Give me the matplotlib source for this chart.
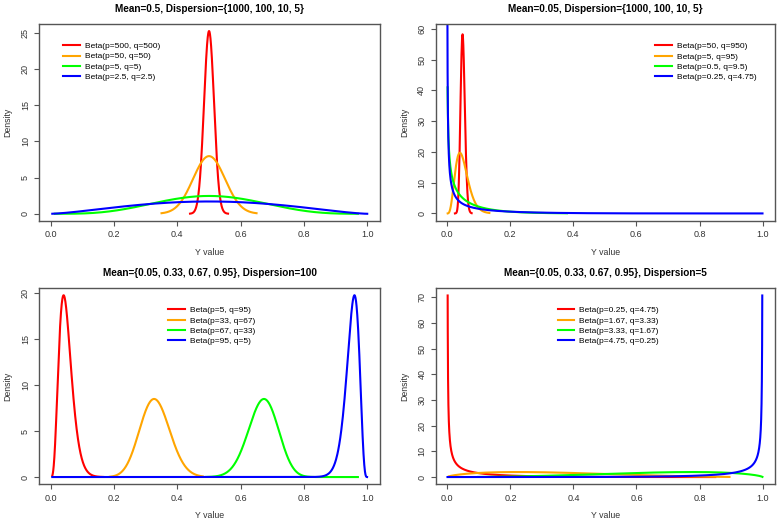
import math
import numpy as np
import matplotlib
matplotlib.use("Agg")
import matplotlib.pyplot as plt

plt.rcParams['font.family'] = ['Liberation Sans', 'DejaVu Sans']

# Beta parameters read from the legends, and the x span each curve covers
colores = ['#ff0000', '#ffa500', '#00ff00', '#0000ff']

titulos = ['Mean=0.5, Dispersion={1000, 100, 10, 5}',
           'Mean=0.05, Dispersion={1000, 100, 10, 5}',
           'Mean={0.05, 0.33, 0.67, 0.95}, Dispersion=100',
           'Mean={0.05, 0.33, 0.67, 0.95}, Dispersion=5']

p_tl = [500, 50, 5, 2.5]
q_tl = [500, 50, 5, 2.5]
rango_tl = [(0.44, 0.56), (0.35, 0.65), (0.013, 0.97), (0.005, 0.9995)]
lab_tl = ['Beta(p=500, q=500)', 'Beta(p=50, q=50)', 'Beta(p=5, q=5)', 'Beta(p=2.5, q=2.5)']

p_tr = [50, 5, 0.5, 0.25]
q_tr = [950, 95, 9.5, 4.75]
rango_tr = [(0.025, 0.078), (0.002, 0.134), (0.0017, 0.38), (0.0001, 0.9995)]
lab_tr = ['Beta(p=50, q=950)', 'Beta(p=5, q=95)', 'Beta(p=0.5, q=9.5)', 'Beta(p=0.25, q=4.75)']

p_bl = [5, 33, 67, 95]
q_bl = [95, 67, 33, 5]
rango_bl = [(0.005, 0.166), (0.187, 0.48), (0.49, 0.97), (0.005, 0.999)]
lab_bl = ['Beta(p=5, q=95)', 'Beta(p=33, q=67)', 'Beta(p=67, q=33)', 'Beta(p=95, q=5)']

p_br = [0.25, 1.67, 3.33, 4.75]
q_br = [4.75, 3.33, 1.67, 0.25]
rango_br = [(0.001, 0.85), (0.005, 0.895), (0.097, 0.9995), (0.0005, 0.999)]
lab_br = ['Beta(p=0.25, q=4.75)', 'Beta(p=1.67, q=3.33)', 'Beta(p=3.33, q=1.67)', 'Beta(p=4.75, q=0.25)']

yticks_tl = [0, 5, 10, 15, 20, 25]
yticks_tr = [0, 10, 20, 30, 40, 50, 60]
yticks_bl = [0, 5, 10, 15, 20]
yticks_br = [0, 10, 20, 30, 40, 50, 60, 70]
xticks = [0.0, 0.2, 0.4, 0.6, 0.8, 1.0]


def dbeta(x, a, b):
    lb = math.lgamma(a) + math.lgamma(b) - math.lgamma(a + b)
    return np.exp((a - 1) * np.log(x) + (b - 1) * np.log1p(-x) - lb)


def grilla(lo, hi):
    t = np.geomspace(1e-4, 1, 200)
    x = np.concatenate([np.linspace(lo, hi, 600), lo + (hi - lo) * t, hi - (hi - lo) * t])
    return np.unique(x)


fig = plt.figure(figsize=(7.78, 5.22), dpi=100)

paneles = [
    ([0.0505, 0.5766, 0.438, 0.3774], p_tl, q_tl, rango_tl, lab_tl, yticks_tl, (-1.0, 26.2), (0.07, 0.907)),
    ([0.5600, 0.5770, 0.4365, 0.3768], p_tr, q_tr, rango_tr, lab_tr, yticks_tr, (-2.4, 61.6), (0.646, 0.907)),
    ([0.0505, 0.0722, 0.438, 0.3755], p_bl, q_bl, rango_bl, lab_bl, yticks_bl, (-0.79, 20.5), (0.378, 0.907)),
    ([0.5604, 0.0722, 0.436, 0.3755], p_br, q_br, rango_br, lab_br, yticks_br, (-2.83, 73.5), (0.359, 0.907)),
]

for i, (pos, ps, qs, rangos, labs, yt, ylim, legpos) in enumerate(paneles):
    ax = fig.add_axes(pos)
    for a, b, (lo, hi), lab, c in zip(ps, qs, rangos, labs, colores):
        x = grilla(lo, hi)
        ax.plot(x, dbeta(x, a, b), color=c, lw=1.5, label=lab)
    ax.set_xlim(-0.036, 1.04)
    ax.set_ylim(*ylim)
    ax.set_xticks(xticks)
    ax.set_xticklabels(['%.1f' % v for v in xticks])
    ax.set_yticks(yt)
    ax.tick_params(direction='out', length=3.8, width=0.8, color='#555555',
                   labelsize=6.5, labelcolor='#333333', pad=3)
    for lbl in ax.get_yticklabels():
        lbl.set_rotation(90)
        lbl.set_va('center')
    for s in ax.spines.values():
        s.set_color('#555555')
        s.set_linewidth(1.0)
    ax.set_xlabel('Y value', fontsize=6.3, color='#333333', labelpad=6)
    ax.set_ylabel('Density', fontsize=6.3, color='#333333', labelpad=6)
    ax.set_title(titulos[i], fontsize=7.2, fontweight='bold', pad=9)
    ax.legend(loc='upper left', bbox_to_anchor=legpos, frameon=False, fontsize=6,
              handlelength=2.0, handletextpad=0.6, labelspacing=0.3, borderpad=0,
              borderaxespad=0)

fig.savefig('out.png', dpi=100)
